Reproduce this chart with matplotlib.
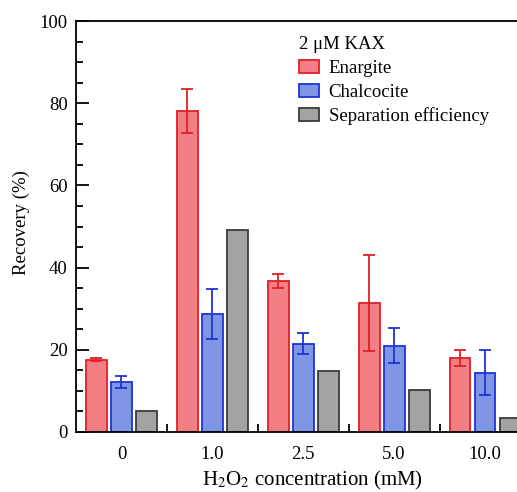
import numpy as np
import matplotlib
matplotlib.use("Agg")
import matplotlib.pyplot as plt

plt.rcParams["font.family"] = ["Liberation Serif", "DejaVu Serif"]
plt.rcParams["mathtext.fontset"] = "stix"

# data
categories = ["0", "1.0", "2.5", "5.0", "10.0"]
enargite = [17.6, 78.1, 36.7, 31.4, 18.0]
enargite_err = [0.4, 5.4, 1.7, 11.7, 2.0]
chalcocite = [12.1, 28.7, 21.5, 21.0, 14.4]
chalcocite_err = [1.5, 6.1, 2.6, 4.2, 5.5]
separation = [5.2, 49.1, 14.8, 10.1, 3.4]

fs = 13.5

fig = plt.figure(figsize=(5.17, 4.92), dpi=100)
ax = fig.add_axes([0.147, 0.122, 0.879, 0.835])

x = np.arange(len(categories))
w = 0.23
step = 0.275

ax.bar(x - step, enargite, w, color="#f17f84", edgecolor="#e41e26", linewidth=1.3,
       label="Enargite", zorder=2)
ax.errorbar(x - step, enargite, yerr=enargite_err, fmt="none", ecolor="#e41e26",
            elinewidth=1.3, capsize=4, capthick=1.3, zorder=3)
ax.bar(x, chalcocite, w, color="#7f95e6", edgecolor="#1f33d6", linewidth=1.3,
       label="Chalcocite", zorder=2)
ax.errorbar(x, chalcocite, yerr=chalcocite_err, fmt="none", ecolor="#1f33d6",
            elinewidth=1.3, capsize=4, capthick=1.3, zorder=3)
ax.bar(x + step, separation, w, color="#a3a3a3", edgecolor="#3a3a3a", linewidth=1.3,
       label="Separation efficiency", zorder=2)

ax.set_xlim(-0.5, 4.5)
ax.set_ylim(0, 100)

# y axis
ax.set_yticks(np.arange(0, 101, 20))
ax.set_yticks(np.arange(0, 101, 5), minor=True)
ax.tick_params(axis="y", which="major", direction="in", length=9, width=1.3,
               labelsize=fs, pad=6)
ax.tick_params(axis="y", which="minor", direction="in", length=5, width=1.3)

# x axis: ticks at group boundaries, labels at centers
ax.set_xticks(x + 0.5)
ax.set_xticklabels([])
ax.set_xticks(x, minor=True)
ax.set_xticklabels(categories, minor=True)
ax.tick_params(axis="x", which="major", direction="in", length=6, width=1.3)
ax.tick_params(axis="x", which="minor", length=0, labelsize=fs, pad=10)

for s in ["left", "bottom", "top"]:
    ax.spines[s].set_linewidth(1.3)
ax.spines["right"].set_visible(False)

ax.set_ylabel("Recovery (%)", fontsize=fs)
ax.yaxis.set_label_coords(-0.101, 0.51)
ax.set_xlabel(r"H$_2$O$_2$ concentration (mM)", fontsize=15)
ax.xaxis.set_label_coords(0.521, -0.091)

leg = ax.legend(title="2 μM KAX", loc="upper left", bbox_to_anchor=(0.453, 1.005),
                frameon=False, fontsize=fs, title_fontsize=fs, handlelength=1.07,
                handleheight=0.7, handletextpad=0.53, labelspacing=0.36,
                alignment="left")

fig.savefig("out.png", dpi=100)
